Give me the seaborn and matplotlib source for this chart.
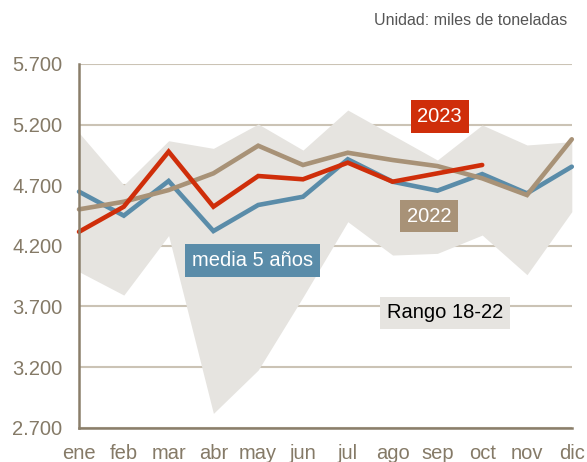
import matplotlib
matplotlib.use("Agg")
import matplotlib.pyplot as plt
import seaborn as sns
import pandas as pd

months = ["ene", "feb", "mar", "abr", "may", "jun", "jul", "ago", "sep", "oct", "nov", "dic"]
y2023 = [4316, 4523, 4977, 4523, 4776, 4749, 4886, 4729, 4798, 4867]
y2022 = [4501, 4564, 4660, 4798, 5026, 4867, 4968, 4908, 4858, 4757, 4619, 5079]
media = [4647, 4449, 4735, 4322, 4537, 4605, 4914, 4729, 4655, 4792, 4633, 4853]
rango_max = [5133, 4702, 5067, 5004, 5205, 4990, 5320, 5114, 4908, 5197, 5032, 5059]
rango_min = [3987, 3794, 4285, 2818, 3176, 3778, 4399, 4124, 4138, 4289, 3962, 4482]
yticks = [2700, 3200, 3700, 4200, 4700, 5200, 5700]

RED = "#CF2E0A"
TAN = "#A89277"
BLUE = "#5A8CA9"
BAND = "#E6E4E0"
AXIS = "#8A7E6A"
GRID = "#CBC3B5"
TICK = "#857A67"

sns.set_style("white")
plt.rcParams["font.family"] = ["Liberation Sans", "DejaVu Sans"]

idx = list(range(len(months)))
df = pd.DataFrame({"mes": idx, "media": media, "2022": y2022})
df23 = pd.DataFrame({"mes": idx[:len(y2023)], "2023": y2023})

fig = plt.figure(figsize=(5.87, 4.62), dpi=100)
ax = fig.add_axes([0.1346, 0.0742, 0.8395, 0.7873])

ax.fill_between(idx, rango_min, rango_max, color=BAND, lw=0, zorder=1)

line_kw = dict(lw=3.3, solid_capstyle="round", solid_joinstyle="miter", clip_on=False, zorder=3)
sns.lineplot(data=df, x="mes", y="media", color=BLUE, ax=ax, **line_kw)
sns.lineplot(data=df, x="mes", y="2022", color=TAN, ax=ax, **line_kw)
sns.lineplot(data=df23, x="mes", y="2023", color=RED, ax=ax, **line_kw)

ax.set_xlim(0, 11)
ax.set_ylim(2700, 5700)
ax.set_xticks(idx)
ax.set_xticklabels(months)
ax.set_yticks(yticks)
ax.set_yticklabels([f"{v:,}".replace(",", ".") for v in yticks])
ax.tick_params(axis="both", length=0, labelsize=14.5, colors=TICK)
ax.tick_params(axis="y", pad=12)
ax.tick_params(axis="x", pad=12)
ax.set_xlabel("")
ax.set_ylabel("")

ax.set_axisbelow(True)
ax.yaxis.grid(True, color=GRID, lw=1.5, zorder=0)
ax.xaxis.grid(False)
for s in ["top", "right"]:
    ax.spines[s].set_visible(False)
for s in ["left", "bottom"]:
    ax.spines[s].set_color(AXIS)
    ax.spines[s].set_linewidth(1.8)
    ax.spines[s].set_zorder(4)

# series labels
def tag(x, y, text, fc, tc="white"):
    ax.text(x, y, text, ha="center", va="center", fontsize=14.5, color=tc, zorder=5,
            bbox=dict(boxstyle="square,pad=0.33", fc=fc, ec="none"))

tag(8.05, 5268, "2023", RED)
tag(7.82, 4444, "2022", TAN)
tag(3.87, 4080, "media 5 años", BLUE)
tag(8.17, 3647, "Rango 18-22", BAND, tc="black")

fig.text(0.966, 0.955, "Unidad: miles de toneladas", ha="right", va="center",
         fontsize=11.5, color="#555555")

fig.savefig("out.png", dpi=100)
